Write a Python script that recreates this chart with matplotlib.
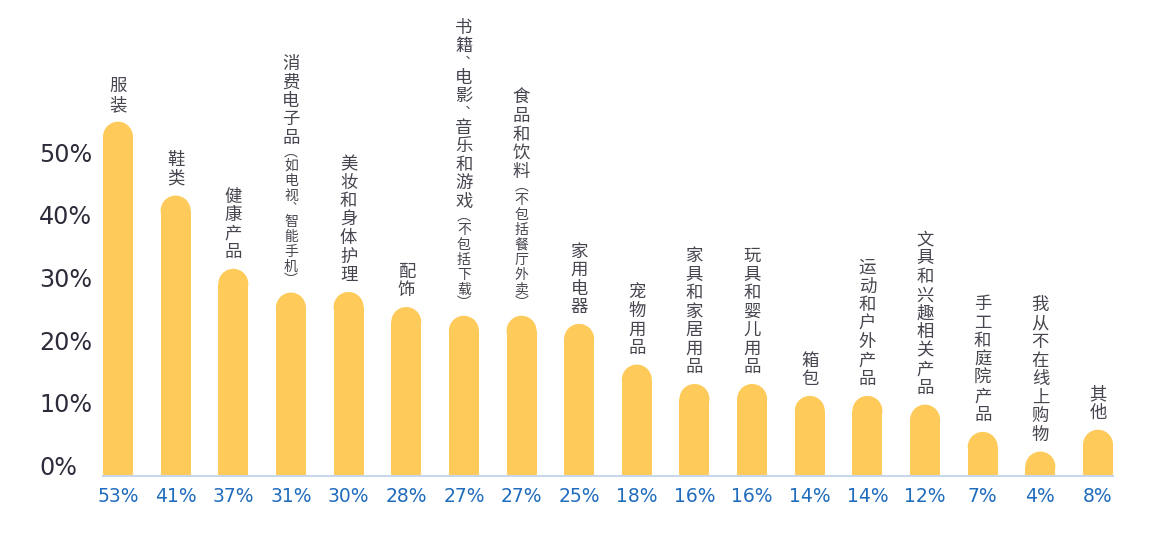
import matplotlib
matplotlib.use('Agg')
import matplotlib.pyplot as plt
from matplotlib.patches import Rectangle, Ellipse
from matplotlib.transforms import blended_transform_factory

plt.rcParams['font.family'] = ['Noto Sans CJK SC', 'DejaVu Sans']

categories = ['服装', '鞋类', '健康产品', '消费电子品', '美妆和身体护理', '配饰',
              '书籍、电影、音乐和游戏', '食品和饮料', '家用电器', '宠物用品',
              '家具和家居用品', '玩具和婴儿用品', '箱包', '运动和户外产品',
              '文具和兴趣相关产品', '手工和庭院产品', '我从不在线上购物', '其他']
notes = ['', '', '', '如电视、智能手机', '', '', '不包括下载', '不包括餐厅外卖', '',
         '', '', '', '', '', '', '', '', '']
shares = [53, 41, 37, 31, 30, 28, 27, 27, 25, 18, 16, 16, 14, 14, 12, 7, 4, 8]
# bar heights as drawn, read against the left axis
bar_heights = [55.3, 43.5, 31.8, 28.0, 28.1, 25.7, 24.3, 24.3, 23.0, 16.5,
               13.4, 13.4, 11.5, 11.5, 10.1, 5.75, 2.6, 6.1]
y_ticks = [0, 10, 20, 30, 40, 50]

bar_color = '#FECB5B'
label_color = '#45454f'
tick_color = '#2c2c3a'
value_color = '#1f6cbd'
PT = 0.72  # points per pixel at dpi 100

fig = plt.figure(figsize=(11.65, 5.34), dpi=100)
y_min, y_max = -1.3, 70
ax = fig.add_axes([103 / 1165, 58 / 534, 1010 / 1165, (y_max - y_min) * 6.26 / 534])
width = 0.52
ax.set_xlim(-width / 2, len(categories) - 1 + width / 2)
ax.set_ylim(y_min, y_max)
for side in ['top', 'left', 'right']:
    ax.spines[side].set_visible(False)
ax.spines['bottom'].set_color('#c8d6ea')
ax.spines['bottom'].set_linewidth(1.5)
ax.set_xticks([])
ax.set_yticks([])

px_x = ax.transData.transform((1, 0))[0] - ax.transData.transform((0, 0))[0]
px_y = ax.transData.transform((0, 1))[1] - ax.transData.transform((0, 0))[1]
r_y = (width / 2) * px_x / px_y


def glyph(c, size, step, comma_size, comma_step):
    # vertical forms for the comma, step = slot height in px
    if c == '、':
        return '︑', comma_size, comma_step
    return c, size, step


def vertical_label(x, top, main, note):
    glyphs = [glyph(c, 12.5, 18.5, 9, 13) for c in main]
    if note:
        glyphs.append(('︵', 10, 11))
        glyphs += [glyph(c, 10, 15, 8, 11) for c in note]
        glyphs.append(('︶', 10, 11))
    offset = 7.5
    for ch, size, step in reversed(glyphs):
        ax.annotate(ch, (x, top), xytext=(0, (offset + step / 2) * PT),
                    textcoords='offset points', ha='center', va='center',
                    fontsize=size, color=label_color, annotation_clip=False)
        offset += step


for i, (h, cat, note, v) in enumerate(zip(bar_heights, categories, notes, shares)):
    ax.add_patch(Rectangle((i - width / 2, y_min), width, h - r_y - y_min,
                           facecolor=bar_color, edgecolor='none'))
    ax.add_patch(Ellipse((i, h - r_y), width, 2 * r_y, facecolor=bar_color, edgecolor='none'))
    vertical_label(i, h, cat, note)
    ax.annotate('%d%%' % v, (i, y_min), xytext=(0, -21 * PT), textcoords='offset points',
                ha='center', va='center', fontsize=13.5, color=value_color,
                family='DejaVu Sans', annotation_clip=False)

trans = blended_transform_factory(fig.transFigure, ax.transData)
for t in y_ticks:
    ax.text(39 / 1165, t, '%d%%' % t, transform=trans, ha='left', va='center',
            fontsize=17.2, color=tick_color, family='DejaVu Sans')

fig.savefig('out.png', dpi=100)
